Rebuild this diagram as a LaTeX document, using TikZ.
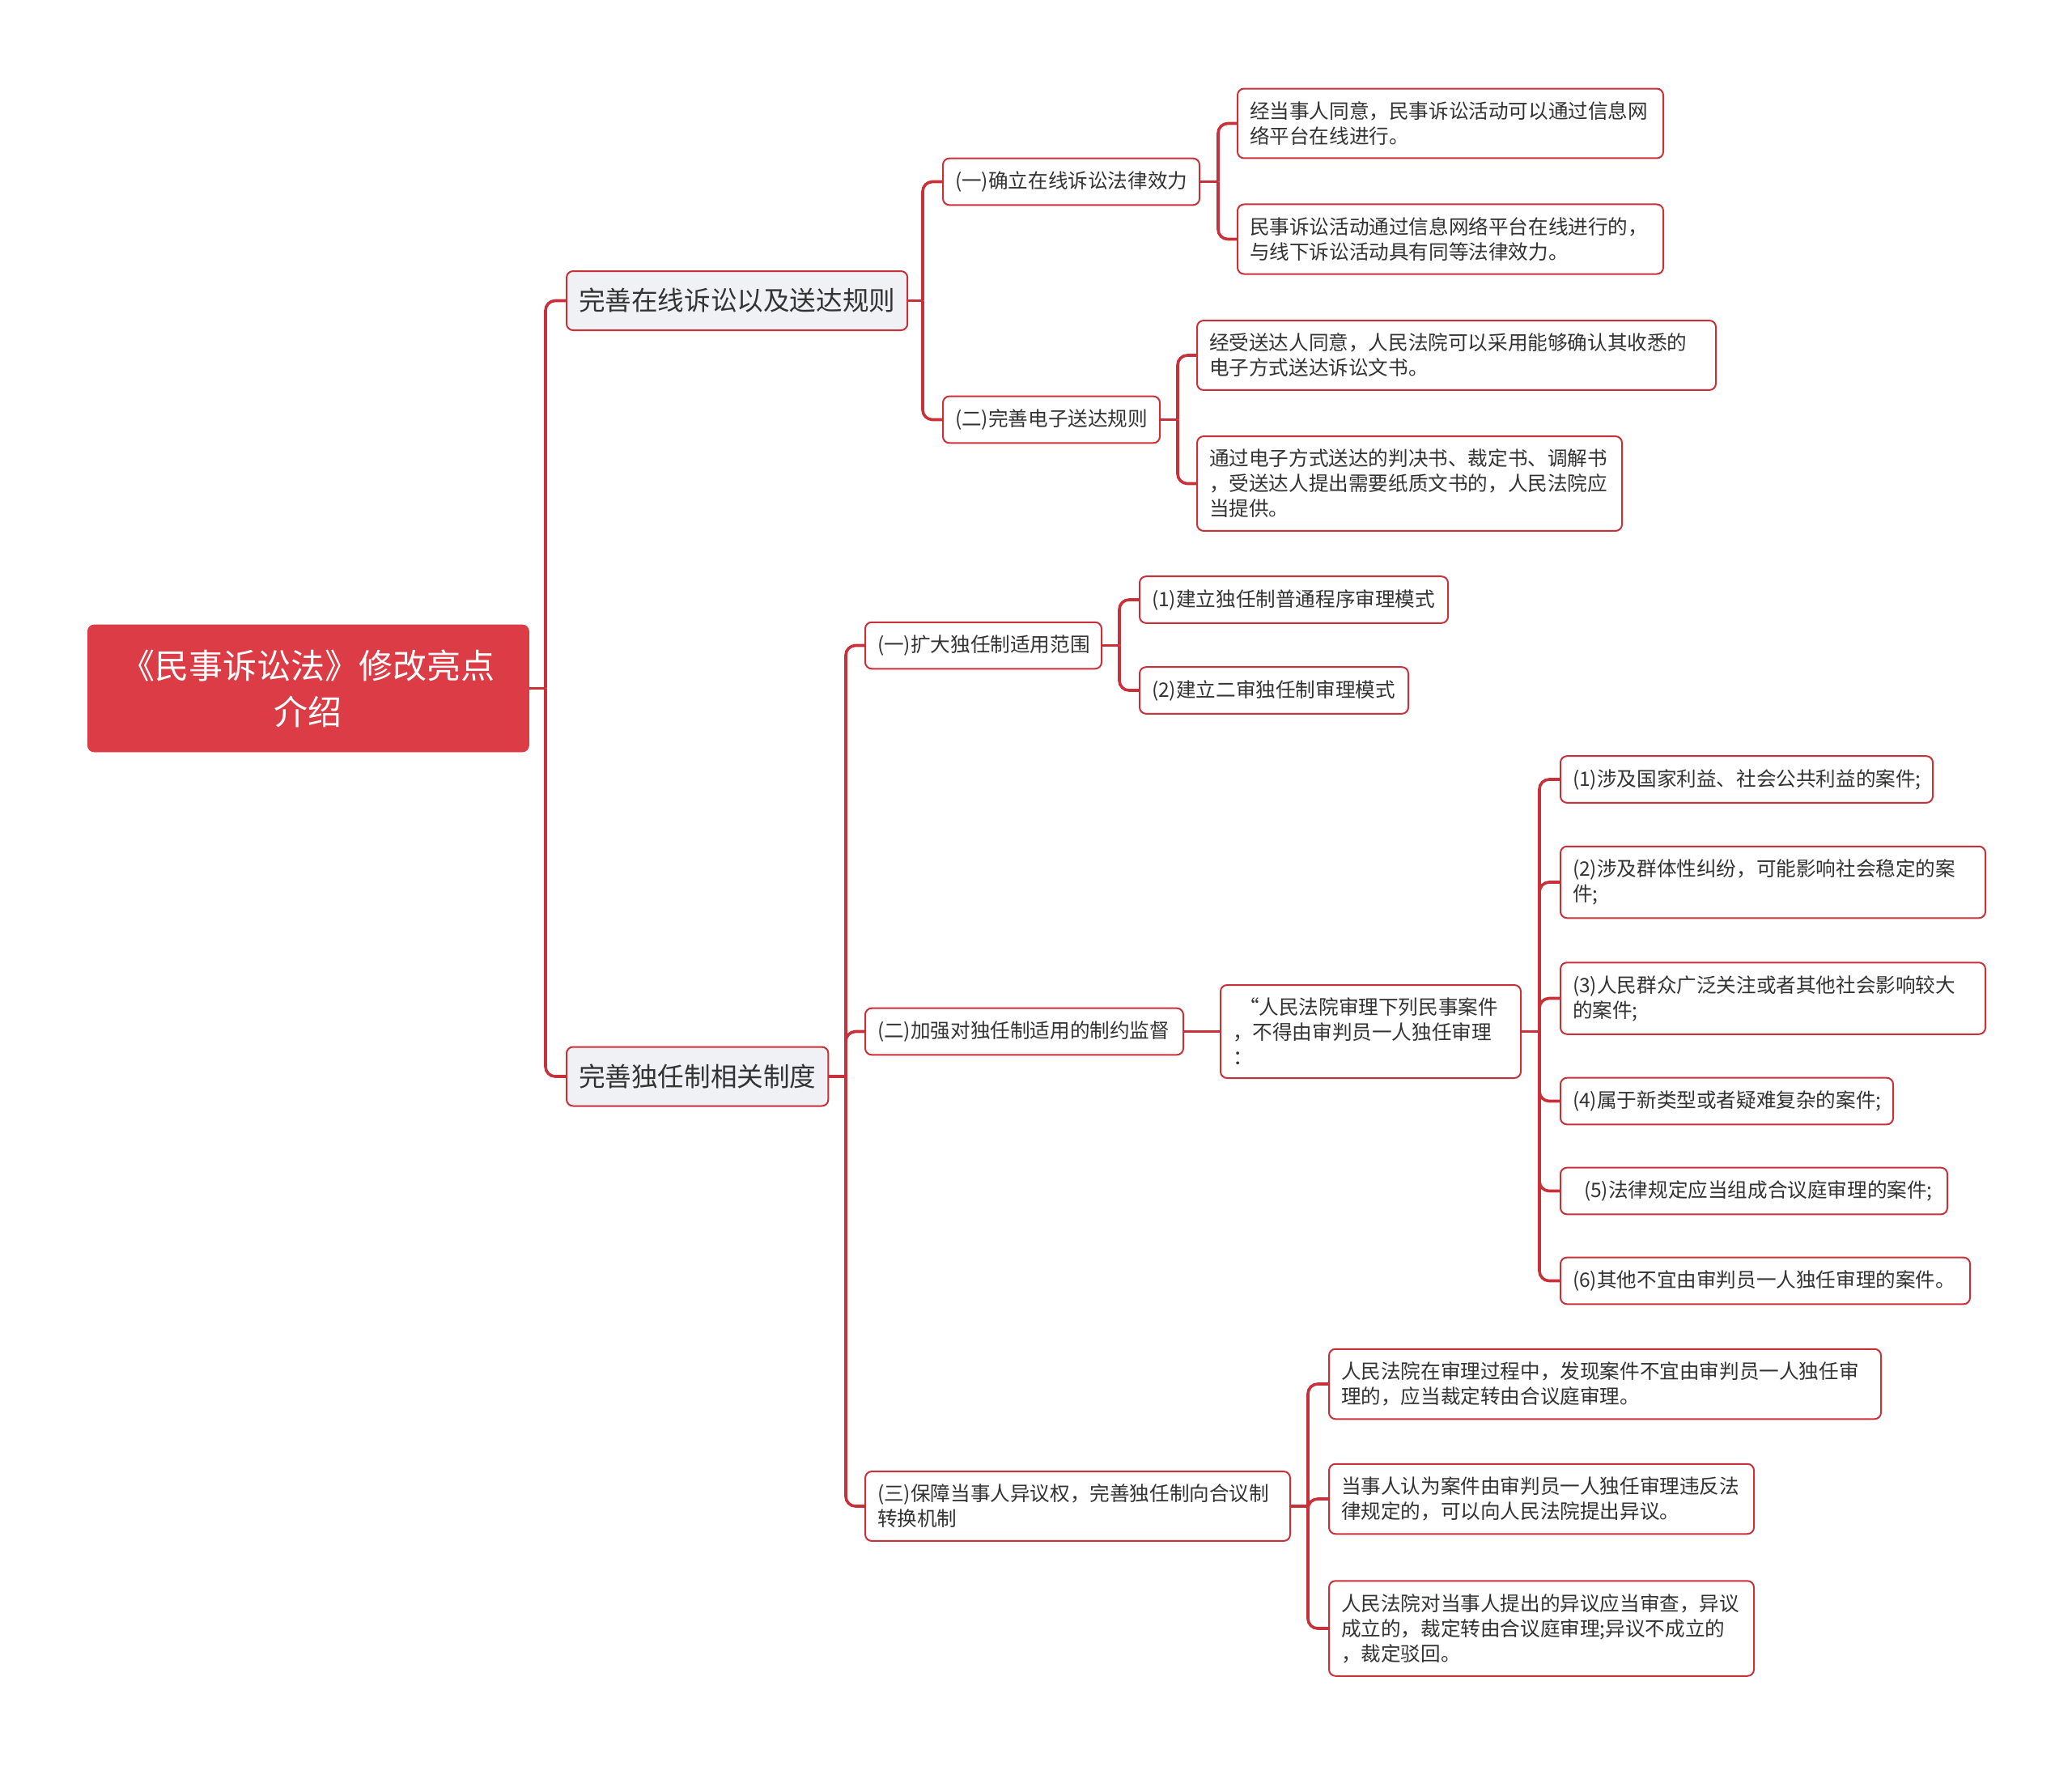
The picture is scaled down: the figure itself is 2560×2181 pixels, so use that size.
\documentclass[tikz,border=0pt]{standalone}
\usepackage{fontspec}
\newfontfamily\cjk{Noto Sans CJK SC}
\usetikzlibrary{positioning}
\definecolor{lineRed}{RGB}{200,48,58}
\definecolor{rootFill}{RGB}{220,60,69}
\definecolor{topicFill}{RGB}{239,241,244}
\definecolor{txtDark}{RGB}{51,51,51}

\begin{document}
\begin{tikzpicture}[
  x=0.5pt, y=-0.5pt,
  rootbox/.style={fill=rootFill,draw=rootFill,rounded corners=4pt,text=white,
                  font=\cjk\fontsize{21}{28.5}\selectfont,align=center,
                  minimum width=272.5pt,minimum height=78.5pt,anchor=west},
  topic/.style={fill=topicFill,draw=lineRed,line width=1pt,rounded corners=4pt,
                text=txtDark,font=\cjk\fontsize{16.3}{20}\selectfont,
                minimum height=36.5pt,inner xsep=7.5pt,anchor=west},
  leaf/.style={fill=white,draw=lineRed,line width=1pt,rounded corners=4pt,
               text=txtDark,font=\cjk\fontsize{12.3}{15.5}\selectfont,align=left,
               inner xsep=7.5pt,inner ysep=8pt,minimum height=28.5pt,anchor=west},
  link/.style={draw=lineRed,line width=1.8pt,rounded corners=6pt}
]
\useasboundingbox (0,0) rectangle (2560,2181);

% ==========  root and main topics  ==========
\node[rootbox] (root) at (108,850.5) {《民事诉讼法》修改亮点\\介绍};

\node[topic,minimum width=209pt] (online) at (699,371.5) {完善在线诉讼以及送达规则};
\node[topic,minimum width=160.5pt] (sole) at (699,1330) {完善独任制相关制度};

% ==========  online litigation branch  ==========
\node[leaf,text width=143.5pt] (onlineEff) at (1164,224.5) {(一)确立在线诉讼法律效力};
\node[leaf,text width=119pt] (eServe) at (1164,518.5) {(二)完善电子送达规则};

\node[leaf,text width=248pt] (effA) at (1528,152.5)
  {经当事人同意，民事诉讼活动可以通过信息网\\络平台在线进行。};
\node[leaf,text width=248pt] (effB) at (1528,295.5)
  {民事诉讼活动通过信息网络平台在线进行的，\\与线下诉讼活动具有同等法律效力。};

\node[leaf,text width=305.5pt] (serveA) at (1478,439)
  {经受送达人同意，人民法院可以采用能够确认其收悉的\\电子方式送达诉讼文书。};
\node[leaf,text width=247.5pt] (serveB) at (1478,597.5)
  {通过电子方式送达的判决书、裁定书、调解书\\，受送达人提出需要纸质文书的，人民法院应\\当提供。};

% ==========  sole-judge branch  ==========
\node[leaf,text width=131pt] (scope) at (1068,797.5) {(一)扩大独任制适用范围};
\node[leaf,text width=181.5pt] (superv) at (1068,1274.5) {(二)加强对独任制适用的制约监督};
\node[leaf,text width=247.5pt] (switchM) at (1068,1861)
  {(三)保障当事人异议权，完善独任制向合议制\\转换机制};

\node[leaf,text width=175.5pt] (scopeA) at (1407,741) {(1)建立独任制普通程序审理模式};
\node[leaf,text width=151pt] (scopeB) at (1407,853) {(2)建立二审独任制审理模式};

\node[leaf,text width=170.5pt] (quoteN) at (1507,1274.5)
  {\hspace*{4pt}“人民法院审理下列民事案件\\，不得由审判员一人独任审理\\：};

\node[leaf,text width=215pt] (caseA) at (1927,963) {(1)涉及国家利益、社会公共利益的案件;};
\node[leaf,text width=247.5pt] (caseB) at (1927,1090)
  {(2)涉及群体性纠纷，可能影响社会稳定的案\\件;};
\node[leaf,text width=247.5pt] (caseC) at (1927,1233.5)
  {(3)人民群众广泛关注或者其他社会影响较大\\的案件;};
\node[leaf,text width=190.5pt] (caseD) at (1927,1360.5) {(4)属于新类型或者疑难复杂的案件;};
\node[leaf,text width=224pt] (caseE) at (1927,1471.5) {\hspace*{7pt}(5)法律规定应当组成合议庭审理的案件;};
\node[leaf,text width=238pt] (caseF) at (1927,1582.5) {(6)其他不宜由审判员一人独任审理的案件。};

\node[leaf,text width=326pt] (swA) at (1641,1710)
  {人民法院在审理过程中，发现案件不宜由审判员一人独任审\\理的，应当裁定转由合议庭审理。};
\node[leaf,text width=247.5pt] (swB) at (1641,1852)
  {当事人认为案件由审判员一人独任审理违反法\\律规定的，可以向人民法院提出异议。};
\node[leaf,text width=247.5pt] (swC) at (1641,2012)
  {人民法院对当事人提出的异议应当审查，异议\\成立的，裁定转由合议庭审理;异议不成立的\\，裁定驳回。};

% ==========  connectors  ==========
\coordinate (rootJ) at (674,850.5);
\coordinate (onlineJ) at (1140,371.5);
\coordinate (effJ) at (1505,224.5);
\coordinate (serveJ) at (1455,518.5);
\coordinate (soleJ) at (1045,1330);
\coordinate (scopeJ) at (1383,797.5);
\coordinate (quoteJ) at (1902,1274.5);
\coordinate (switchJ) at (1616,1861);

\draw[link] (root.east) -- (rootJ);
\foreach \c in {online,sole} \draw[link] (rootJ) |- (\c.west);

\draw[link] (online.east) -- (onlineJ);
\foreach \c in {onlineEff,eServe} \draw[link] (onlineJ) |- (\c.west);
\draw[link] (onlineEff.east) -- (effJ);
\foreach \c in {effA,effB} \draw[link] (effJ) |- (\c.west);
\draw[link] (eServe.east) -- (serveJ);
\foreach \c in {serveA,serveB} \draw[link] (serveJ) |- (\c.west);

\draw[link] (sole.east) -- (soleJ);
\foreach \c in {scope,superv,switchM} \draw[link] (soleJ) |- (\c.west);
\draw[link] (scope.east) -- (scopeJ);
\foreach \c in {scopeA,scopeB} \draw[link] (scopeJ) |- (\c.west);
\draw[link] (superv.east) -- (quoteN.west);
\draw[link] (quoteN.east) -- (quoteJ);
\foreach \c in {caseA,caseB,caseC,caseD,caseE,caseF} \draw[link] (quoteJ) |- (\c.west);
\draw[link] (switchM.east) -- (switchJ);
\foreach \c in {swA,swB,swC} \draw[link] (switchJ) |- (\c.west);

\end{tikzpicture}
\end{document}
